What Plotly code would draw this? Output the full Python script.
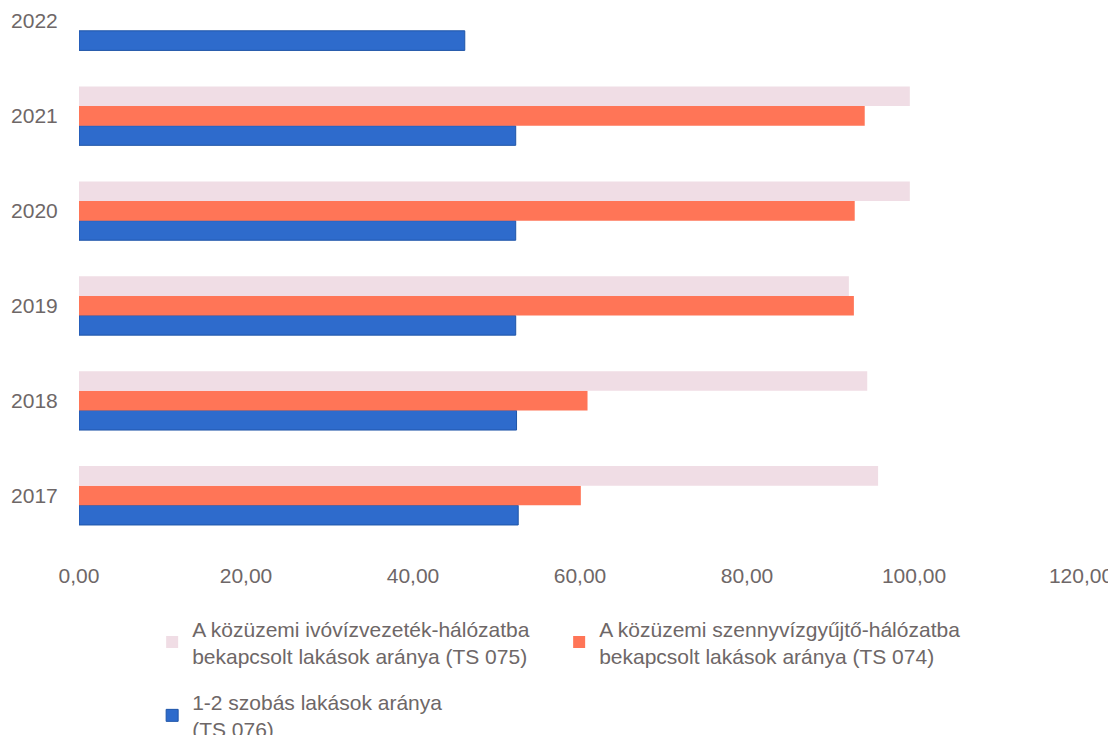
import plotly.graph_objects as go

# Évek és a három mutató értékei (%)
evek = ['2017', '2018', '2019', '2020', '2021', '2022']
ivoviz = [95.7, 94.4, 92.2, 99.5, 99.5, None]
szennyviz = [60.1, 60.9, 92.8, 92.9, 94.1, None]
szobas_1_2 = [52.6, 52.4, 52.3, 52.3, 52.3, 46.2]

nev_ivoviz = 'A közüzemi ivóvízvezeték-hálózatba<br>bekapcsolt lakások aránya (TS 075)'
nev_szennyviz = 'A közüzemi szennyvízgyűjtő-hálózatba<br>bekapcsolt lakások aránya (TS 074)'
nev_szobas = '1-2 szobás lakások aránya<br>(TS 076)'

szurke = '#6e6767'
betu = 'Liberation Sans, Arial, sans-serif'

fig = go.Figure()

# Plotly alulról felfelé rakja a csoport sávjait, ezért a kék kerül előre
fig.add_trace(go.Bar(y=evek, x=szobas_1_2, orientation='h', name=nev_szobas,
                     legend='legend2',
                     marker=dict(color='#2e6bcc', line=dict(color='#1f55a8', width=1))))
fig.add_trace(go.Bar(y=evek, x=szennyviz, orientation='h', name=nev_szennyviz,
                     marker=dict(color='#ff7557', line=dict(width=0))))
fig.add_trace(go.Bar(y=evek, x=ivoviz, orientation='h', name=nev_ivoviz,
                     marker=dict(color='#f0dde5', line=dict(width=0))))

# az oldal 8 px-es body margóját a méretekben kompenzáljuk
fig.update_layout(
    barmode='group',
    bargap=0.38,
    bargroupgap=0,
    width=1108,
    height=727,
    plot_bgcolor='white',
    paper_bgcolor='white',
    separators=',.',
    margin=dict(l=71, r=35, t=0, b=191.5, autoexpand=False),
    font=dict(family=betu, size=21, color=szurke),
    legend=dict(
        orientation='h',
        traceorder='reversed',
        x=0.073, xanchor='left',
        y=-0.122, yanchor='top',
        entrywidth=362,
        font=dict(size=21, color=szurke),
    ),
    legend2=dict(
        orientation='h',
        x=0.073, xanchor='left',
        y=-0.259, yanchor='top',
        font=dict(size=21, color=szurke),
    ),
)

fig.update_xaxes(range=[0, 120], dtick=20, tickformat='.2f', automargin=False,
                 showgrid=False, zeroline=False, showline=False,
                 ticks='outside', ticklen=14, tickcolor='rgba(0,0,0,0)',
                 tickfont=dict(size=21))
fig.update_yaxes(type='category', range=[-0.5, 5.137], showgrid=False, automargin=False,
                 ticks='outside', ticklen=16, tickcolor='rgba(0,0,0,0)')

fig.write_html('out.html')
